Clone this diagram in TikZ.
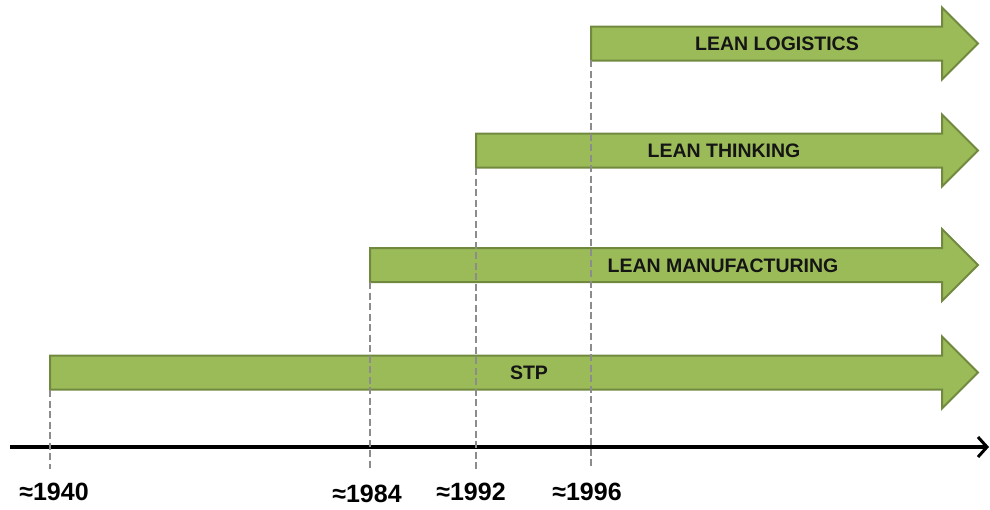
\documentclass[tikz,border=0pt]{standalone}
\usepackage{fontspec}
\setmainfont{Liberation Sans}
\usetikzlibrary{arrows.meta}
\definecolor{barfill}{HTML}{9BBB59}
\definecolor{barline}{HTML}{71893F}
\definecolor{dashgray}{HTML}{8C8C8C}
\definecolor{txt}{HTML}{151515}
\tikzset{
  leanbar/.style={fill=barfill, draw=barline, line width=2pt, line join=miter},
  barlabel/.style={font=\fontsize{19.5}{19.5}\selectfont\bfseries, text=txt, inner sep=0pt, anchor=center},
  yearlabel/.style={font=\fontsize{25}{25}\selectfont\bfseries, text=black, inner sep=0pt, anchor=center},
  guide/.style={draw=dashgray, line width=2.6pt, dash pattern=on 7pt off 3.5pt},
  axisline/.style={draw=black, line width=3.5pt, -{Straight Barb[length=9pt,width=20pt,line width=3pt]}}
}
\newcommand{\mkbar}[2]{% #1 = left x, #2 = centre y
  \draw[leanbar] (#1,#2-17) -- (942,#2-17) -- (942,#2-36) -- (978,#2) -- (942,#2+36) -- (942,#2+17) -- (#1,#2+17) -- cycle;}
\begin{document}
\begin{tikzpicture}[x=1pt,y=-1pt]
\useasboundingbox (0,0) rectangle (990,509);
% bars
\mkbar{591}{43.5}
\mkbar{476}{150.5}
\mkbar{370}{265}
\mkbar{50}{372.5}
\node[barlabel] (tlog) at (777,44) {LEAN LOGISTICS};
\node[barlabel] (tthink) at (724,151) {LEAN THINKING};
\node[barlabel] (tmanu) at (723,266) {LEAN MANUFACTURING};
\node[barlabel] (tstp) at (529,373) {STP};
% axis
\coordinate (axl) at (10,447);
\coordinate (axr) at (989,447);
\draw[axisline] (axl) -- (axr);
% guides
\coordinate (g40t) at (50,390);   \coordinate (g40b) at (50,469);
\coordinate (g84t) at (370,282);  \coordinate (g84b) at (370,469);
\coordinate (g92t) at (476,168);  \coordinate (g92b) at (476,469);
\coordinate (g96t) at (591,60);   \coordinate (g96b) at (591,469);
\draw[guide] (g40t) -- (g40b);
\draw[guide] (g84t) -- (g84b);
\draw[guide] (g92t) -- (g92b);
\draw[guide] (g96t) -- (g96b);
% years
\node[yearlabel] (y40) at (54,492) {≈1940};
\node[yearlabel] (y84) at (367,494) {≈1984};
\node[yearlabel] (y92) at (471,492) {≈1992};
\node[yearlabel] (y96) at (587,492) {≈1996};
\end{tikzpicture}
\end{document}
